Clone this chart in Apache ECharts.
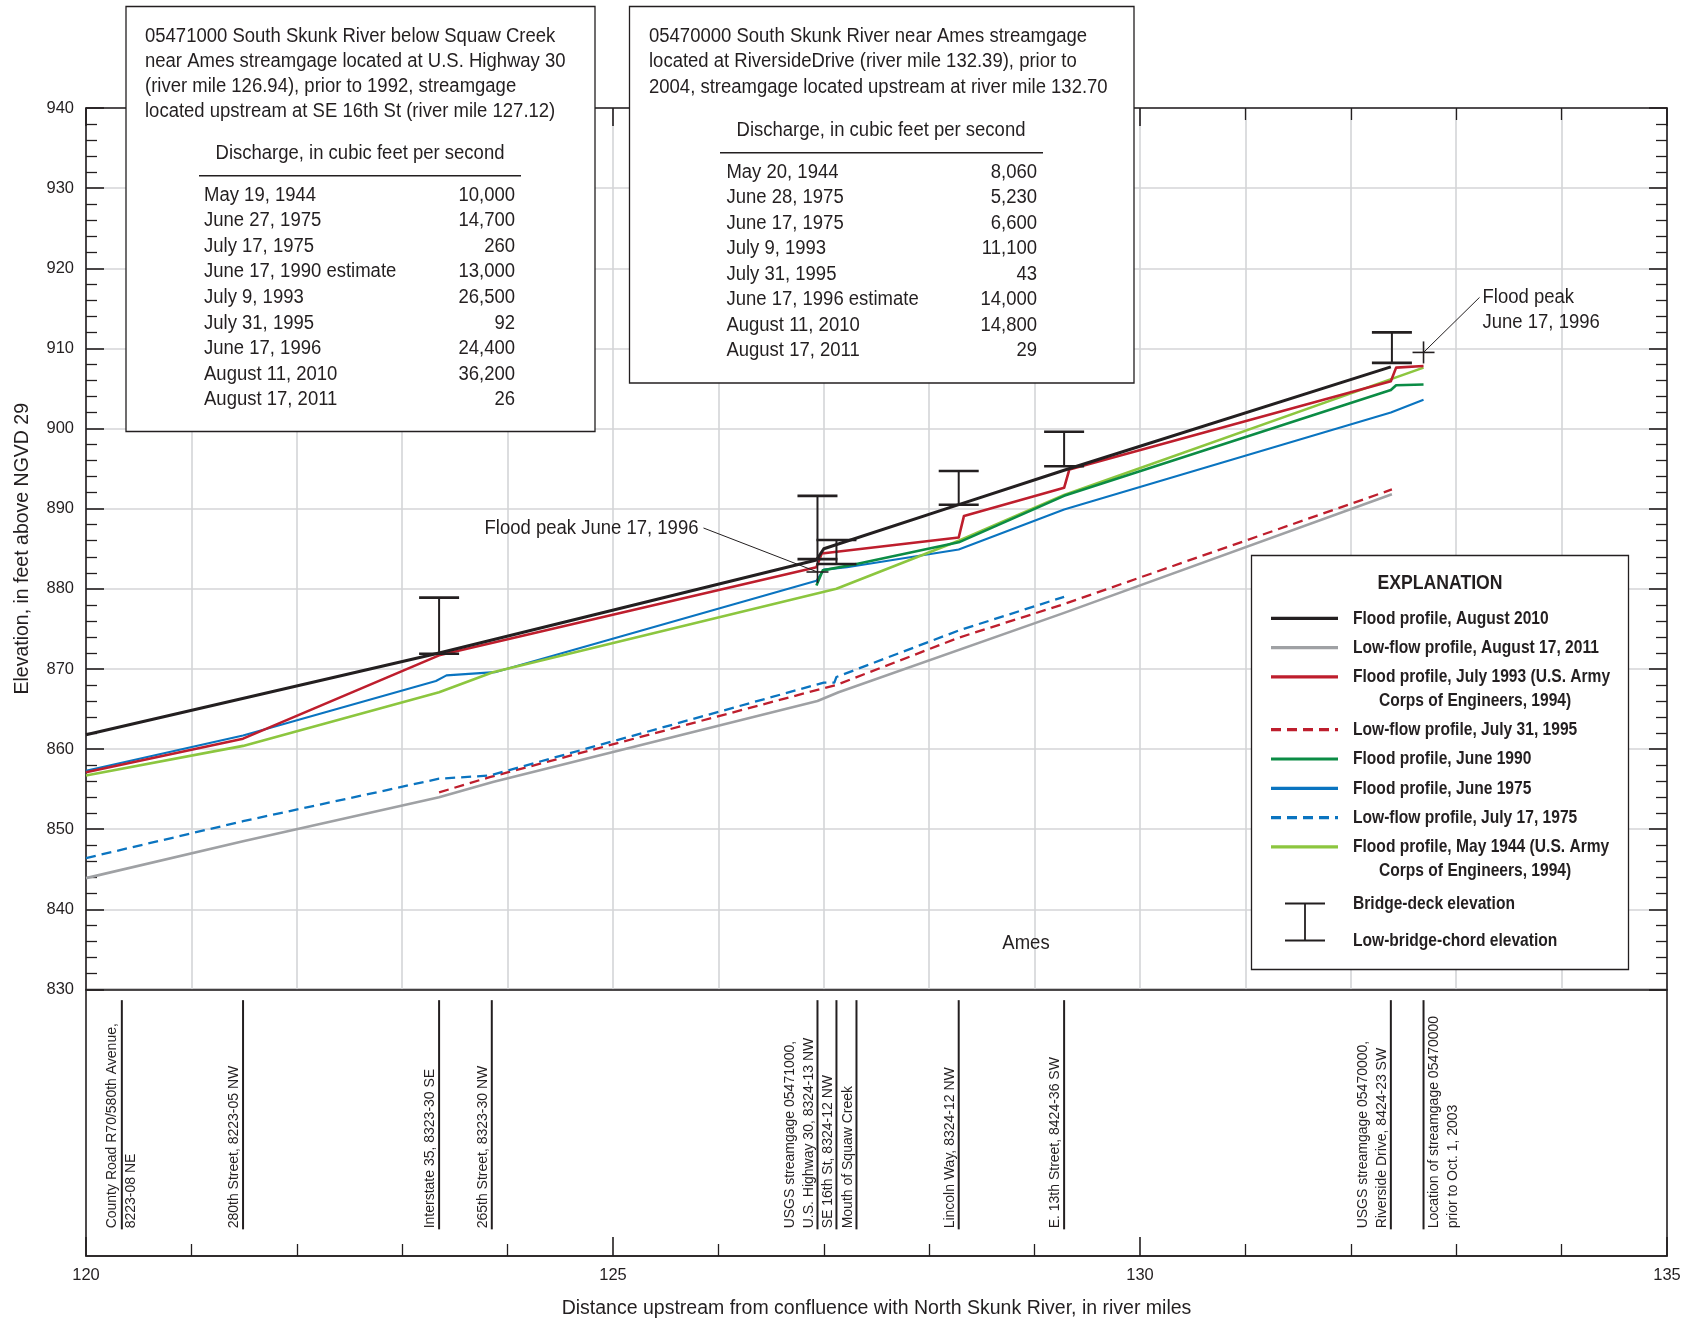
<!DOCTYPE html>
<html>
<head>
<meta charset="utf-8">
<title>South Skunk River water-surface profiles</title>
<script src="https://cdn.jsdelivr.net/npm/echarts@6/dist/echarts.min.js"></script>
<style>
	html, body { margin: 0; padding: 0; background: #fff; }
	#main { width: 1690px; height: 1324px; }
</style>
</head>
<body>
<div id="main"></div>
<script>
	/*profile data: [river mile, elevation in feet]*/
	var flood2010 = [[120, 861.8], [123.35, 872.0], [126.93, 883.6], [127.0, 885.0], [128.28, 890.5], [129.28, 894.8], [132.38, 907.7]];
	var lowflow2011 = [[120, 843.9], [121.49, 848.5], [123.35, 854.0], [123.86, 855.9], [126.94, 866.0], [127.14, 867.1], [129.28, 877.0], [132.39, 891.8]];
	var flood1993 = [[120, 857.1], [121.49, 861.3], [123.35, 871.7], [126.93, 882.7], [126.98, 884.4], [128.28, 886.4], [128.33, 889.1], [129.28, 892.6], [129.33, 894.9], [132.38, 905.9], [132.43, 907.6], [132.69, 907.8]];
	var lowflow1995 = [[123.35, 854.6], [123.83, 856.5], [127.0, 867.6], [127.12, 868.0], [128.28, 873.9], [129.28, 878.1], [132.39, 892.4]];
	var flood1990 = [[126.93, 880.4], [126.99, 882.3], [127.31, 883.1], [128.28, 885.8], [129.28, 891.6], [132.38, 904.8], [132.43, 905.4], [132.69, 905.5]];
	var flood1975 = [[120, 857.3], [121.49, 861.7], [123.32, 868.5], [123.42, 869.2], [123.88, 869.6], [126.93, 881.0], [127.0, 882.4], [127.22, 882.7], [128.28, 884.9], [129.28, 889.9], [132.38, 902.0], [132.69, 903.6]];
	var lowflow1975 = [[120, 846.4], [121.49, 851.0], [123.35, 856.3], [123.83, 856.7], [127.0, 868.3], [127.1, 868.3], [127.12, 869.0], [128.28, 874.8], [129.28, 879.0]];
	var flood1944 = [[120, 856.7], [121.49, 860.4], [123.35, 867.1], [123.86, 869.6], [127.12, 880.0], [128.28, 886.0], [129.28, 891.7], [132.69, 907.6]];

	/*bridges: river mile, deck and low chord elevations*/
	var bridgeMiles = [123.35, 126.94, 127.12, 128.28, 129.28, 132.39];
	var bridgeDeck = [878.9, 891.6, 886.1, 894.7, 899.6, 912.0];
	var bridgeChord = [871.9, 883.7, 883.1, 890.5, 895.3, 908.2];

	/*flood peaks of June 17, 1996*/
	var peakMiles = [126.94, 132.69];
	var peakElev = [882.1, 909.5];

	/*sites along the river (lower panel)*/
	var siteMiles = [120.34, 121.49, 123.35, 123.85, 126.94, 127.12, 127.31, 128.28, 129.28, 132.38, 132.69];
	var siteNames = [
		'County Road R70/580th Avenue,\n8223-08 NE',
		'280th Street, 8223-05 NW',
		'Interstate 35, 8323-30 SE',
		'265th Street, 8323-30 NW',
		'USGS streamgage 05471000,\nU.S. Highway 30, 8324-13 NW',
		'SE 16th St, 8324-12 NW',
		'Mouth of Squaw Creek',
		'Lincoln Way, 8324-12 NW',
		'E. 13th Street, 8424-36 SW',
		'USGS streamgage 05470000,\nRiverside Drive, 8424-23 SW',
		'Location of streamgage 05470000\nprior to Oct. 1, 2003'
	];

	/*discharge tables*/
	var gage1Dates = ['May 19, 1944', 'June 27, 1975', 'July 17, 1975', 'June 17, 1990 estimate', 'July 9, 1993', 'July 31, 1995', 'June 17, 1996', 'August 11, 2010', 'August 17, 2011'];
	var gage1Flows = [10000, 14700, 260, 13000, 26500, 92, 24400, 36200, 26];
	var gage2Dates = ['May 20, 1944', 'June 28, 1975', 'June 17, 1975', 'July 9, 1993', 'July 31, 1995', 'June 17, 1996 estimate', 'August 11, 2010', 'August 17, 2011'];
	var gage2Flows = [8060, 5230, 6600, 11100, 43, 14000, 14800, 29];

	var gage1Title = '05471000 South Skunk River below Squaw Creek\nnear Ames streamgage located at U.S. Highway 30\n(river mile 126.94), prior to 1992, streamgage\nlocated upstream at SE 16th St (river mile 127.12)';
	var gage2Title = '05470000 South Skunk River near Ames streamgage\nlocated at RiversideDrive (river mile 132.39), prior to\n2004, streamgage located upstream at river mile 132.70';

	/*styles*/
	var INK = '#231f20';
	var GRIDC = '#d4d5d7';
	var FONT = '"Liberation Sans", Arial, sans-serif';
	var NARROW = 0.925;   //horizontal squeeze used to imitate the condensed face
	var NARROW_BOLD = 0.82;

	//legend order
	var profiles = [
		{name: 'Flood profile, August 2010', data: flood2010, color: INK, width: 3, dash: 'solid', z: 9},
		{name: 'Low-flow profile, August 17, 2011', data: lowflow2011, color: '#9fa1a4', width: 2.6, dash: 'solid', z: 2},
		{name: 'Flood profile, July 1993 (U.S. Army', name2: 'Corps of Engineers, 1994)', data: flood1993, color: '#be1e2d', width: 2.6, dash: 'solid', z: 8},
		{name: 'Low-flow profile, July 31, 1995', data: lowflow1995, color: '#be1e2d', width: 2.3, dash: [10, 6], z: 3},
		{name: 'Flood profile, June 1990', data: flood1990, color: '#0b8c45', width: 2.6, dash: 'solid', z: 7},
		{name: 'Flood profile, June 1975', data: flood1975, color: '#0a74c0', width: 2.1, dash: 'solid', z: 5},
		{name: 'Low-flow profile, July 17, 1975', data: lowflow1975, color: '#0a74c0', width: 2.3, dash: [10, 6], z: 4},
		{name: 'Flood profile, May 1944 (U.S. Army', name2: 'Corps of Engineers, 1994)', data: flood1944, color: '#8cc63f', width: 2.6, dash: 'solid', z: 6}
	];

	/*label placement of the flood peak notes (pixels from the point)*/
	var peakNotes = [
		{text: 'Flood peak June 17, 1996', lead: [-114, -44], tx: -119, ty: -44, align: 'right', vAlign: 'middle'},
		{text: 'Flood peak\nJune 17, 1996', lead: [56, -55], tx: 59, ty: -67, align: 'left', vAlign: 'top'}
	];
	//side of the site line where the rotated label sits
	var siteSide = ['middle', 'bottom', 'bottom', 'bottom', 'bottom', 'bottom', 'bottom', 'bottom', 'bottom', 'bottom', 'top'];

	/*I-beam for bridge deck / low chord*/
	function renderBridge(params, api) {
		var top = api.coord([api.value(0), api.value(1)]);
		var bot = api.coord([api.value(0), api.value(2)]);
		var half = 20;
		var bar = {stroke: INK, lineWidth: 2.6};
		return {
			type: 'group',
			children: [
				{type: 'line', shape: {x1: top[0], y1: top[1], x2: bot[0], y2: bot[1]}, style: {stroke: INK, lineWidth: 2}},
				{type: 'line', shape: {x1: top[0] - half, y1: top[1], x2: top[0] + half, y2: top[1]}, style: bar},
				{type: 'line', shape: {x1: bot[0] - half, y1: bot[1], x2: bot[0] + half, y2: bot[1]}, style: bar}
			]
		};
	}

	/*cross with leader line and note*/
	function renderPeak(params, api) {
		var p = api.coord([api.value(0), api.value(1)]);
		var n = peakNotes[params.dataIndex];
		var s = 11;
		var st = {stroke: INK, lineWidth: 1.6};
		return {
			type: 'group',
			children: [
				{type: 'line', shape: {x1: p[0] - s, y1: p[1], x2: p[0] + s, y2: p[1]}, style: st},
				{type: 'line', shape: {x1: p[0], y1: p[1] - s, x2: p[0], y2: p[1] + s}, style: st},
				{type: 'line', shape: {x1: p[0], y1: p[1], x2: p[0] + n.lead[0], y2: p[1] + n.lead[1]}, style: {stroke: INK, lineWidth: 1}},
				{type: 'text', x: p[0] + n.tx, y: p[1] + n.ty, scaleX: NARROW,
					style: {text: n.text, fill: INK, fontSize: 20, fontFamily: FONT, lineHeight: 25, align: n.align, verticalAlign: n.vAlign}}
			]
		};
	}

	/*vertical site line with rotated name*/
	function renderSite(params, api) {
		var i = params.dataIndex;
		var lo = api.coord([api.value(0), 0.1]);
		var hi = api.coord([api.value(0), 0.96]);
		var side = siteSide[i];
		var tx = side === 'middle' ? lo[0] : lo[0] + 1;
		return {
			type: 'group',
			children: [
				{type: 'line', shape: {x1: lo[0], y1: lo[1], x2: hi[0], y2: hi[1]}, style: {stroke: INK, lineWidth: 2}},
				{type: 'text', x: tx, y: lo[1] - 1, rotation: Math.PI / 2,
					style: {text: siteNames[i], fill: INK, fontSize: 14, fontFamily: FONT, lineHeight: 19, align: 'left', verticalAlign: side}}
			]
		};
	}

	/*text helpers for the graphic component*/
	function txt(x, y, s, o) {
		o = o || {};
		var bold = o.weight === 'bold';
		return {
			type: 'text', x: x, y: y, z: 102, silent: true,
			scaleX: o.sx || (bold ? NARROW_BOLD : NARROW),
			style: {
				text: s, fill: INK, fontSize: o.size || 20, fontFamily: FONT,
				fontWeight: o.weight || 'normal', align: o.align || 'left',
				verticalAlign: o.vAlign || 'middle', lineHeight: o.lh || 25
			}
		};
	}
	function hline(x1, x2, y, o) {
		o = o || {};
		return {type: 'line', z: 102, silent: true, shape: {x1: x1, y1: y, x2: x2, y2: y},
			style: {stroke: o.color || INK, lineWidth: o.width || 1.5, lineDash: o.dash || null}};
	}
	function box(x, y, w, h) {
		return {type: 'rect', z: 100, silent: true, shape: {x: x, y: y, width: w, height: h},
			style: {fill: '#fff', stroke: INK, lineWidth: 1.3}};
	}
	function fmt(v) {
		return v.toLocaleString('en-US');
	}

	/*build the annotation boxes and the explanation*/
	function buildGraphics() {
		var g = [];
		var i;
		//gage 05471000 box
		g.push(box(126, 6.5, 469, 425));
		g.push(txt(145, 23.5, gage1Title, {vAlign: 'top', lh: 25.2}));
		g.push(txt(360, 153, 'Discharge, in cubic feet per second', {align: 'center'}));
		g.push(hline(199, 521, 175.7));
		for (i = 0; i < gage1Dates.length; i++) {
			g.push(txt(204, 195 + 25.6 * i, gage1Dates[i]));
			g.push(txt(515, 195 + 25.6 * i, fmt(gage1Flows[i]), {align: 'right'}));
		}
		//gage 05470000 box
		g.push(box(629.5, 6.5, 504.5, 376.5));
		g.push(txt(649, 23.1, gage2Title, {vAlign: 'top', lh: 25.8}));
		g.push(txt(881, 130, 'Discharge, in cubic feet per second', {align: 'center'}));
		g.push(hline(720, 1043, 152.7));
		for (i = 0; i < gage2Dates.length; i++) {
			g.push(txt(726.4, 172.3 + 25.5 * i, gage2Dates[i]));
			g.push(txt(1037, 172.3 + 25.5 * i, fmt(gage2Flows[i]), {align: 'right'}));
		}
		//explanation
		g.push(box(1251.5, 555.5, 377, 414));
		g.push(txt(1440, 583, 'EXPLANATION', {align: 'center', weight: 'bold', size: 21, sx: 0.84}));
		var y = 618.3;
		for (i = 0; i < profiles.length; i++) {
			var p = profiles[i];
			g.push(hline(1271, 1338, y, {color: p.color, width: 3.2, dash: p.dash === 'solid' ? null : p.dash}));
			g.push(txt(1353, y, p.name, {weight: 'bold', size: 19}));
			if (p.name2) {
				g.push(txt(1379, y + 23.5, p.name2, {weight: 'bold', size: 19}));
				y += 23.5;
			}
			y += 29.3;
		}
		//bridge symbol
		g.push(hline(1285, 1325, 903.5, {width: 2.2}));
		g.push(hline(1285, 1325, 940.5, {width: 2.2}));
		g.push({type: 'line', z: 102, silent: true, shape: {x1: 1305, y1: 903.5, x2: 1305, y2: 940.5}, style: {stroke: INK, lineWidth: 1.8}});
		g.push(txt(1353, 904, 'Bridge-deck elevation', {weight: 'bold', size: 19}));
		g.push(txt(1353, 941, 'Low-bridge-chord elevation', {weight: 'bold', size: 19}));
		//place name
		var ames = txt(1026, 943, 'Ames', {align: 'center'});
		ames.z = 50;
		g.push(ames);
		return g;
	}

	var chart = echarts.init(document.getElementById('main'));

	var axisLineStyle = {color: INK, width: 1.6};
	var series = [];
	for (var k = 0; k < profiles.length; k++) {
		series.push({
			name: profiles[k].name,
			type: 'line',
			xAxisIndex: 0,
			yAxisIndex: 0,
			data: profiles[k].data,
			showSymbol: false,
			symbol: 'none',
			silent: true,
			z: profiles[k].z,
			lineStyle: {color: profiles[k].color, width: profiles[k].width, type: profiles[k].dash, cap: 'butt', join: 'round'}
		});
	}
	series.push({
		type: 'custom', name: 'bridges', xAxisIndex: 0, yAxisIndex: 0, z: 12, silent: true,
		renderItem: renderBridge,
		data: bridgeMiles.map(function (m, i) { return [m, bridgeDeck[i], bridgeChord[i]]; })
	});
	series.push({
		type: 'custom', name: 'peaks', xAxisIndex: 0, yAxisIndex: 0, z: 13, silent: true,
		renderItem: renderPeak,
		data: peakMiles.map(function (m, i) { return [m, peakElev[i]]; })
	});
	series.push({
		type: 'custom', name: 'sites', xAxisIndex: 2, yAxisIndex: 2, z: 10, silent: true,
		renderItem: renderSite,
		data: siteMiles.map(function (m) { return [m, 0]; })
	});

	var option = {
		animation: false,
		backgroundColor: '#fff',
		grid: [
			{left: 86, right: 23, top: 108, height: 881.5},
			{left: 86, right: 23, top: 989.5, height: 266.5, show: true, borderColor: INK, borderWidth: 1.6, backgroundColor: 'transparent'}
		],
		xAxis: [
			{
				gridIndex: 0, type: 'value', position: 'top', min: 120, max: 135, interval: 5,
				axisLine: {show: true, onZero: false, lineStyle: axisLineStyle},
				axisTick: {show: true, inside: true, length: 18, lineStyle: axisLineStyle},
				minorTick: {show: true, splitNumber: 5, length: 12, lineStyle: {color: INK, width: 1.3}},
				axisLabel: {show: false},
				splitLine: {show: true, lineStyle: {color: GRIDC, width: 1.6}},
				minorSplitLine: {show: true, lineStyle: {color: GRIDC, width: 1.6}}
			},
			{
				gridIndex: 0, type: 'value', position: 'bottom', min: 120, max: 135,
				axisLine: {show: true, onZero: false, lineStyle: axisLineStyle},
				axisTick: {show: false}, axisLabel: {show: false}, splitLine: {show: false}
			},
			{
				gridIndex: 1, type: 'value', position: 'bottom', min: 120, max: 135, interval: 5,
				axisLine: {show: true, onZero: false, lineStyle: axisLineStyle},
				axisTick: {show: true, inside: true, length: 19, lineStyle: axisLineStyle},
				minorTick: {show: true, splitNumber: 5, length: 12, lineStyle: {color: INK, width: 1.3}},
				axisLabel: {show: true, margin: 11, color: INK, fontSize: 16.5, fontFamily: FONT},
				splitLine: {show: false},
				name: 'Distance upstream from confluence with North Skunk River, in river miles',
				nameLocation: 'middle', nameGap: 43,
				nameTextStyle: {color: INK, fontSize: 19.5, fontFamily: FONT}
			}
		],
		yAxis: [
			{
				gridIndex: 0, type: 'value', position: 'left', min: 830, max: 940, interval: 10,
				axisLine: {show: true, onZero: false, lineStyle: axisLineStyle},
				axisTick: {show: true, inside: true, length: 18, lineStyle: axisLineStyle},
				minorTick: {show: true, splitNumber: 5, length: 11, lineStyle: {color: INK, width: 1.3}},
				axisLabel: {show: true, margin: 12, color: INK, fontSize: 16.5, fontFamily: FONT},
				splitLine: {show: true, lineStyle: {color: GRIDC, width: 1.6}},
				name: 'Elevation, in feet above NGVD 29',
				nameLocation: 'middle', nameGap: 53,
				nameTextStyle: {color: INK, fontSize: 19.5, fontFamily: FONT}
			},
			{
				gridIndex: 0, type: 'value', position: 'right', min: 830, max: 940, interval: 10,
				axisLine: {show: true, onZero: false, lineStyle: axisLineStyle},
				axisTick: {show: true, inside: true, length: 18, lineStyle: axisLineStyle},
				minorTick: {show: true, splitNumber: 5, length: 11, lineStyle: {color: INK, width: 1.3}},
				axisLabel: {show: false},
				splitLine: {show: false}
			},
			{gridIndex: 1, type: 'value', min: 0, max: 1, show: false}
		],
		series: series,
		graphic: {elements: buildGraphics()}
	};

	chart.setOption(option);
</script>
</body>
</html>
